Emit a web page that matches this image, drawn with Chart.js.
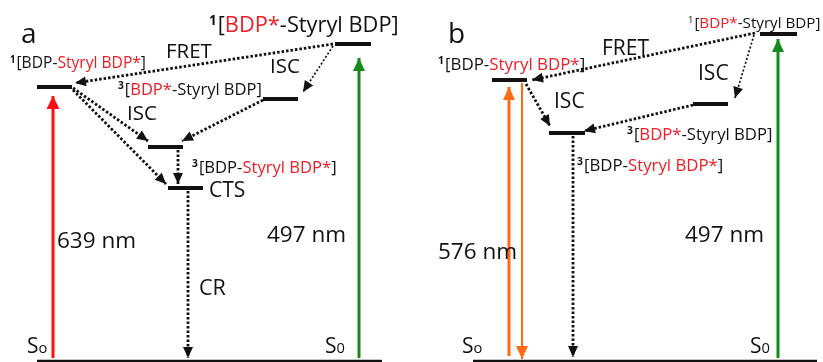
<!DOCTYPE html>
<html>
<head>
<meta charset="utf-8">
<script src="https://cdn.jsdelivr.net/npm/chart.js@4.4.1/dist/chart.umd.min.js"></script>
<style>
  html, body { margin: 0; padding: 0; background: #fff; }
  canvas { display: block; }
</style>
</head>
<body>
<canvas id="chart" width="823" height="362"></canvas>
<script>
// state names: ^ = superscript digit, _ = subscript, {...} = red part
const statesA = ["S_o", "^1[BDP-{Styryl BDP*}]", "^1[{BDP*}-Styryl BDP]", "^3[{BDP*}-Styryl BDP]", "^3[BDP-{Styryl BDP*}]", "CTS"];
const statesB = ["S_o", "^1[BDP-{Styryl BDP*}]", "^1[{BDP*}-Styryl BDP]", "^3[{BDP*}-Styryl BDP]", "^3[BDP-{Styryl BDP*}]"];

// level energies (arbitrary units, S0 = 0)
const energyA = [0, 274, 317, 262, 214, 173];
const energyB = [0, 281, 327, 257, 228];

// excitation wavelengths (a: red, green / b: orange, green)
const excitationNm = [639, 497, 576, 497];
const processes = ["FRET", "ISC", "CR"];

// diagram columns for each level
const levelXA = [[37, 382], [37, 72], [335, 371], [263, 298], [148, 183], [168, 203]];
const levelXB = [[473, 817], [492, 527], [760, 797], [693, 728], [549, 585]];

const RED = "#ff1010";
const GREEN = "#16891a";
const ORANGE = "#ff6a13";
const TEXT_RED = "#ee1c25";
const BLACK = "#111";
const FONT = "'Open Sans'";

// arrows: [x1, e1, x2, e2, style]
const arrows = [
  [53, 3, 53, energyA[1] - 9, "red"],
  [359, 3, 359, energyA[2] - 14, "green"],
  [333, energyA[2], 75, energyA[1] + 4, "dot"],
  [333, energyA[2] - 2, 303, energyA[3] + 7, "thin"],
  [263, energyA[3] - 1, 182, energyA[4] + 6, "dot"],
  [73, energyA[1] - 1, 148, energyA[4] + 6, "dot"],
  [73, energyA[1] - 3, 166, energyA[5] + 4, "dot"],
  [178, energyA[4] - 3, 178, energyA[5] + 4, "dot"],
  [188, energyA[5] - 3, 188, 3, "dot"],

  [509, 5, 509, energyB[1] - 7, "orange"],
  [522, energyB[1] - 3, 522, 2, "orange2"],
  [778, 3, 778, energyB[2] - 5, "green"],
  [755, energyB[2] + 1, 532, energyB[1], "dot"],
  [754, energyB[2] - 1, 735, energyB[3] + 6, "thin"],
  [693, energyB[3] - 1, 584, energyB[4] + 2, "dot"],
  [526, energyB[1] - 4, 550, energyB[4] + 7, "dot"],
  [573, energyB[4] - 3, 573, 4, "dot"],
];

const arrowStyles = {
  red: { color: RED, width: 3, dash: [], head: [13, 13] },
  green: { color: GREEN, width: 3, dash: [], head: [12, 13] },
  orange: { color: ORANGE, width: 3, dash: [], head: [12, 13] },
  orange2: { color: ORANGE, width: 2, dash: [], head: [12, 13] },
  dot: { color: BLACK, width: 2.8, dash: [2.5, 2], head: [10, 11] },
  thin: { color: BLACK, width: 1.7, dash: [2, 2], head: [10, 11] },
};

// labels: [text, x, e (baseline), size, boldSup]
const labels = [
  ["a", 21, 318, 28, true],
  [statesA[2], 209, 329, 21.8, true],
  [processes[0], 166, 303, 20.5, true],
  [statesA[1], 10, 293, 15.6, true],
  [processes[1], 270, 288, 20.5, true],
  [statesA[3], 118, 266, 16.5, true],
  [processes[1], 127, 241, 20.5, true],
  [statesA[4], 192, 188, 16.6, true],
  [statesA[5], 209, 164, 21, true],
  [excitationNm[0] + " nm", 57, 113, 22.5, true],
  [excitationNm[1] + " nm", 267, 119, 22.5, true],
  [processes[2], 199, 66, 21.5, true],
  [statesA[0], 27, 8, 21, true],
  ["S_0", 325, 8, 21, true],

  ["b", 448, 318, 28, true],
  [statesB[2], 688, 333, 15.2, false],
  [processes[0], 602, 306, 21, true],
  [statesB[1], 438, 291, 16.9, true],
  [processes[1], 698, 281, 21, true],
  [processes[1], 554, 253, 21, true],
  [statesB[3], 627, 221, 16.7, true],
  [statesB[4], 577, 190, 16.8, true],
  [excitationNm[2] + " nm", 438, 102, 22.5, true],
  [excitationNm[3] + " nm", 685, 119, 22.5, true],
  [statesB[0], 462, 8, 21, true],
  ["S_0", 750, 8, 21, true],
];

function parseLabel(s) {
  const parts = [];
  let buf = "", red = false;
  const flush = () => { if (buf) parts.push({ t: buf, red }); buf = ""; };
  for (let i = 0; i < s.length; i++) {
    const ch = s[i];
    if (ch === "^" || ch === "_") {
      flush();
      parts.push({ t: s[i + 1], sup: ch === "^", sub: ch === "_" });
      i++;
    } else if (ch === "{") { flush(); red = true; }
    else if (ch === "}") { flush(); red = false; }
    else buf += ch;
  }
  flush();
  return parts;
}

const datasets = [];

levelXA.forEach((xs, i) => {
  datasets.push({
    data: [{ x: xs[0], y: energyA[i] }, { x: xs[1], y: energyA[i] }],
    borderColor: BLACK,
    borderWidth: i === 0 ? 2.5 : 4,
  });
});
levelXB.forEach((xs, i) => {
  datasets.push({
    data: [{ x: xs[0], y: energyB[i] }, { x: xs[1], y: energyB[i] }],
    borderColor: BLACK,
    borderWidth: i === 0 ? 2.5 : 4,
  });
});

arrows.forEach((a) => {
  const st = arrowStyles[a[4]];
  datasets.push({
    data: [{ x: a[0], y: a[1] }, { x: a[2], y: a[3] }],
    borderColor: st.color,
    borderWidth: st.width,
    borderDash: st.dash,
    arrowStyle: st,
  });
});

datasets.forEach((d) => {
  d.showLine = true;
  d.pointRadius = 0;
  d.pointHoverRadius = 0;
  d.borderCapStyle = "butt";
  d.fill = false;
});

const arrowHeads = {
  id: "arrowHeads",
  afterDatasetsDraw(chart) {
    const { ctx, scales } = chart;
    chart.data.datasets.forEach((d) => {
      if (!d.arrowStyle) return;
      const p0 = d.data[0], p1 = d.data[1];
      const x0 = scales.x.getPixelForValue(p0.x), y0 = scales.y.getPixelForValue(p0.y);
      const x1 = scales.x.getPixelForValue(p1.x), y1 = scales.y.getPixelForValue(p1.y);
      const ang = Math.atan2(y1 - y0, x1 - x0);
      const [w, len] = d.arrowStyle.head;
      ctx.save();
      ctx.translate(x1, y1);
      ctx.rotate(ang);
      ctx.fillStyle = d.arrowStyle.color;
      ctx.beginPath();
      ctx.moveTo(0, 0);
      ctx.lineTo(-len, -w / 2);
      ctx.lineTo(-len, w / 2);
      ctx.closePath();
      ctx.fill();
      ctx.restore();
    });
  },
};

const textLabels = {
  id: "textLabels",
  afterDraw(chart) {
    const { ctx, scales } = chart;
    ctx.save();
    ctx.textBaseline = "alphabetic";
    ctx.textAlign = "left";
    labels.forEach(([text, x, e, size, boldSup]) => {
      let px = scales.x.getPixelForValue(x);
      const py = scales.y.getPixelForValue(e);
      parseLabel(text).forEach((p) => {
        let fs = size, dy = 0, weight = "normal";
        if (p.sup) { fs = size * 0.62; dy = -size * 0.34; weight = boldSup ? "bold" : "normal"; }
        if (p.sub) { fs = size * 0.7; dy = size * 0.02; }
        ctx.font = weight + " " + fs + "px " + FONT;
        ctx.fillStyle = p.red ? TEXT_RED : BLACK;
        ctx.fillText(p.t, px, py + dy);
        px += ctx.measureText(p.t).width + (p.sup ? 1 : 0);
      });
    });
    ctx.restore();
  },
};

new Chart(document.getElementById("chart").getContext("2d"), {
  type: "scatter",
  data: { datasets },
  options: {
    responsive: false,
    animation: false,
    layout: { padding: 0 },
    scales: {
      x: { type: "linear", min: 0, max: 823, display: false },
      y: { type: "linear", min: -1, max: 361, display: false },
    },
    plugins: {
      legend: { display: false },
      tooltip: { enabled: false },
    },
  },
  plugins: [arrowHeads, textLabels],
});
</script>
</body>
</html>
